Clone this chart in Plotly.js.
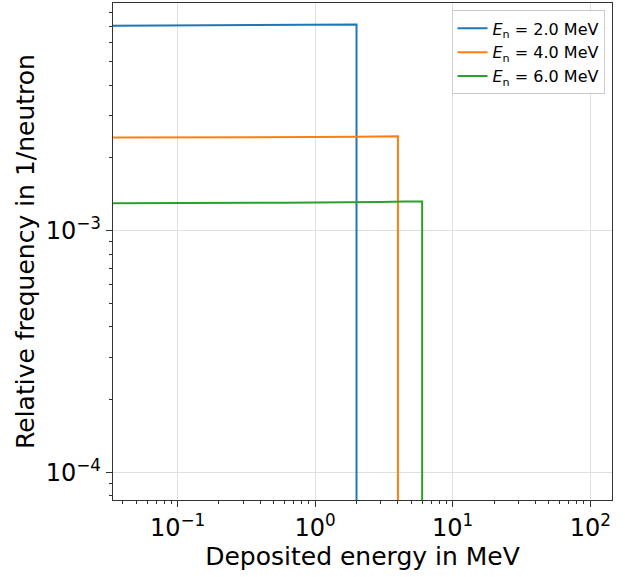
<!DOCTYPE html>
<html>
<head>
<meta charset="utf-8">
<script src="https://cdn.plot.ly/plotly-3.0.1.min.js"></script>
<style>
  html, body { margin: 0; padding: 0; background: #fff; }
  #chart { width: 625px; height: 577px; }
</style>
</head>
<body>
<div id="chart"></div>
<script>
// Deposited-energy spectra for three neutron energies (log-log)
const seriesNames = [
  '<i>E</i><sub>n</sub> = 2.0 MeV',
  '<i>E</i><sub>n</sub> = 4.0 MeV',
  '<i>E</i><sub>n</sub> = 6.0 MeV'
];
const seriesColors = ['#1f77b4', '#ff7f0e', '#2ca02c'];

// Deposited energy (MeV) sample points, ending at the cut-off edge
const energy2 = [0.03, 0.1, 0.3, 0.6, 1.0, 1.5, 1.99, 2.0, 2.0];
const energy4 = [0.03, 0.1, 0.3, 0.6, 1.0, 2.0, 3.0, 3.95, 4.0, 4.0];
const energy6 = [0.03, 0.1, 0.3, 0.6, 1.0, 2.0, 3.0, 4.5, 5.95, 6.0, 6.0];

// Relative frequency (1/neutron)
const freq2 = [7.05e-3, 7.07e-3, 7.08e-3, 7.10e-3, 7.12e-3, 7.13e-3, 7.13e-3, 7.13e-3, 1e-6];
const freq4 = [2.43e-3, 2.43e-3, 2.43e-3, 2.44e-3, 2.44e-3, 2.45e-3, 2.45e-3, 2.46e-3, 2.46e-3, 1e-6];
const freq6 = [1.30e-3, 1.30e-3, 1.30e-3, 1.305e-3, 1.31e-3, 1.31e-3, 1.315e-3, 1.32e-3, 1.32e-3, 1.32e-3, 1e-6];

// Major tick positions and their labels
const xTickVals = [0.1, 1, 10, 100];
const xTickText = ['10<sup>−1</sup>', '10<sup>0</sup>', '10<sup>1</sup>', '10<sup>2</sup>'];
const yTickVals = [1e-4, 1e-3];
const yTickText = ['10<sup>−4</sup>', '10<sup>−3</sup>'];

const xs = [energy2, energy4, energy6];
const ys = [freq2, freq4, freq6];

const traces = xs.map((x, i) => ({
  x: x,
  y: ys[i],
  type: 'scatter',
  mode: 'lines',
  name: seriesNames[i],
  line: { color: seriesColors[i], width: 2 }
}));

const font = 'DejaVu Sans, sans-serif';

const axisCommon = {
  type: 'log',
  tickmode: 'array',
  tickfont: { family: font, size: 24 },
  ticks: 'outside', ticklen: 6, tickwidth: 1, tickcolor: '#333',
  showgrid: true, gridcolor: '#e0e0e0', gridwidth: 1,
  showline: true, linecolor: '#333', linewidth: 1.2, mirror: true,
  zeroline: false,
  minor: { ticks: 'outside', ticklen: 3, tickwidth: 1, tickcolor: '#333', dtick: 'D1', showgrid: false }
};

const layout = {
  width: 625,
  height: 577,
  margin: { l: 113, r: 13, t: 3, b: 77 },
  paper_bgcolor: '#fff',
  plot_bgcolor: '#fff',
  font: { family: font, color: '#000' },
  showlegend: true,
  legend: {
    x: 0.985, y: 0.985, xanchor: 'right', yanchor: 'top',
    bgcolor: 'rgba(255,255,255,0.9)',
    bordercolor: '#cccccc', borderwidth: 1,
    font: { family: font, size: 16, color: '#000' },
    tracegroupgap: 0
  },
  xaxis: Object.assign({}, axisCommon, {
    range: [-1.469, 2.158],
    tickvals: xTickVals,
    ticktext: xTickText,
    title: { text: 'Deposited energy in MeV', font: { family: font, size: 25 }, standoff: 2 }
  }),
  yaxis: Object.assign({}, axisCommon, {
    range: [-4.1146, -2.0575],
    tickvals: yTickVals,
    ticktext: yTickText,
    title: { text: 'Relative frequency in 1/neutron', font: { family: font, size: 25 }, standoff: 4 }
  })
};

Plotly.newPlot('chart', traces, layout, { displayModeBar: false, staticPlot: true });
</script>
</body>
</html>
